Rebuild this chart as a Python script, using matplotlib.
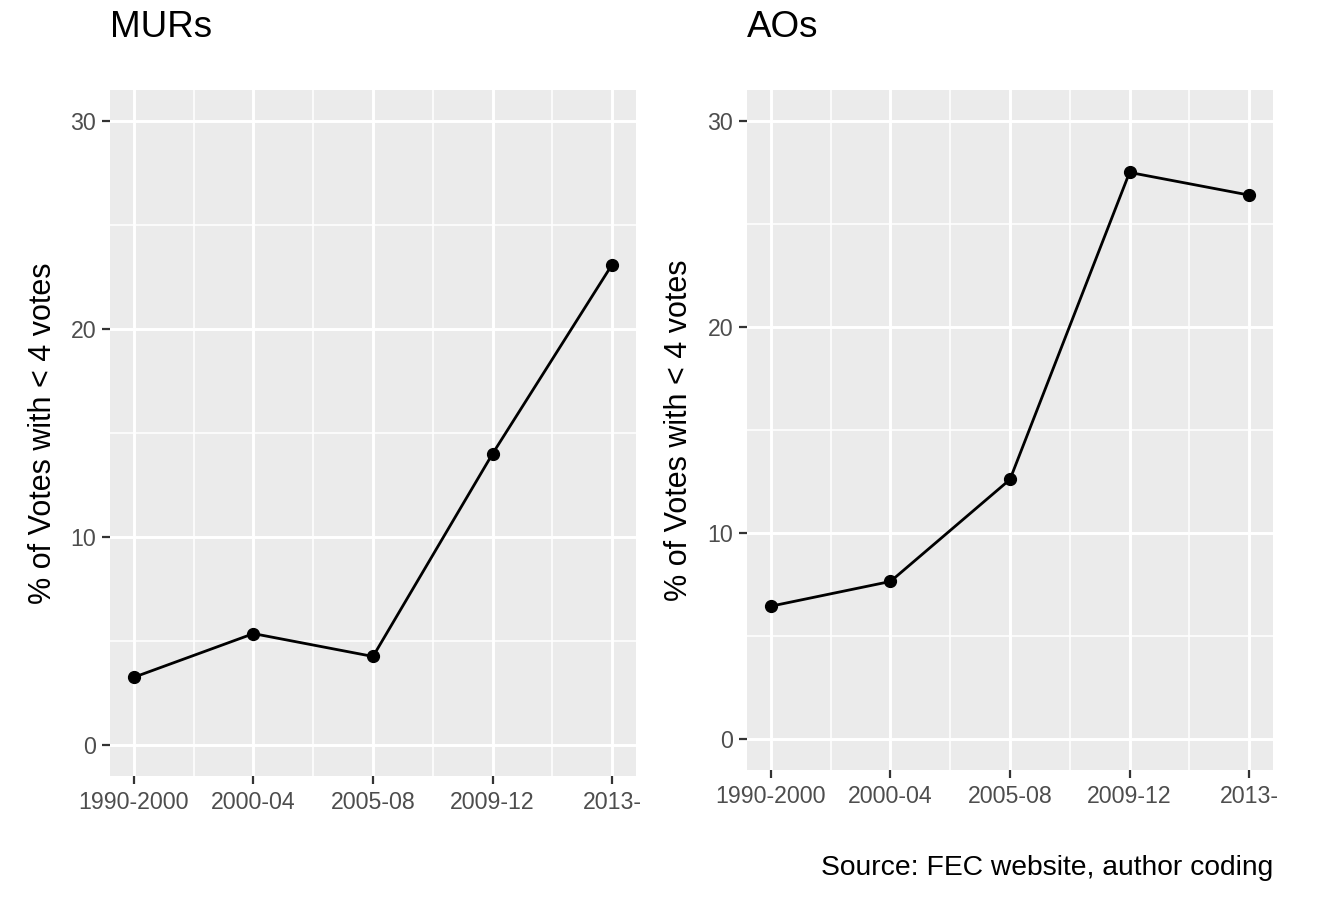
import matplotlib.pyplot as plt
from matplotlib.ticker import FixedLocator

plt.rcParams['font.family'] = ['Liberation Sans', 'DejaVu Sans']

periods = ["1990-2000", "2000-04", "2005-08", "2009-12", "2013-"]
murs_pct = [3.25, 5.35, 4.25, 14.0, 23.1]
aos_pct = [6.45, 7.65, 12.6, 27.5, 26.4]
y_ticks = [0, 10, 20, 30]

PANEL_BG = "#EBEBEB"
TICK_TEXT = "#4D4D4D"
TICK_LINE = "#333333"

W, H = 1340, 922


def style_panel(ax):
    x = list(range(1, len(periods) + 1))
    ax.set_facecolor(PANEL_BG)
    for s in ax.spines.values():
        s.set_visible(False)
    ax.set_xlim(0.8, len(periods) + 0.2)
    ax.set_ylim(-1.5, 31.5)
    ax.xaxis.set_major_locator(FixedLocator(x))
    ax.set_xticklabels(periods)
    ax.xaxis.set_minor_locator(FixedLocator([v + 0.5 for v in x[:-1]]))
    ax.yaxis.set_major_locator(FixedLocator(y_ticks))
    ax.yaxis.set_minor_locator(FixedLocator([v + 5 for v in y_ticks[:-1]]))
    ax.grid(which="major", color="white", linewidth=2.1)
    ax.grid(which="minor", color="white", linewidth=1.1)
    ax.set_axisbelow(True)
    ax.tick_params(which="major", length=6, width=1.6, color=TICK_LINE,
                   labelsize=16.7, labelcolor=TICK_TEXT)
    ax.tick_params(axis="x", pad=5)
    ax.tick_params(axis="y", pad=4)
    ax.tick_params(which="minor", length=0)


fig = plt.figure(figsize=(W / 100, H / 100), dpi=100)

# left: MURs
ax1 = fig.add_axes([110 / W, 1 - 776 / H, 526 / W, 686 / H])
style_panel(ax1)
ax1.plot(range(1, 6), murs_pct, color="black", linewidth=2.0,
         marker="o", markersize=8.5)
fig.text(110 / W, 1 - 37 / H, "MURs", fontsize=26.5, ha="left", va="baseline")
fig.text(43 / W, 1 - 433 / H, "% of Votes with < 4 votes", fontsize=22,
         rotation=90, ha="center", va="center")

# right: AOs
ax2 = fig.add_axes([747 / W, 1 - 770 / H, 526 / W, 680 / H])
style_panel(ax2)
ax2.plot(range(1, 6), aos_pct, color="black", linewidth=2.0,
         marker="o", markersize=8.5)
fig.text(747 / W, 1 - 37 / H, "AOs", fontsize=26.5, ha="left", va="baseline")
fig.text(679 / W, 1 - 430 / H, "% of Votes with < 4 votes", fontsize=22,
         rotation=90, ha="center", va="center")

fig.text(1273 / W, 1 - 875 / H, "Source: FEC website, author coding",
         fontsize=20.3, ha="right", va="baseline")

fig.savefig("out.png", dpi=100)
